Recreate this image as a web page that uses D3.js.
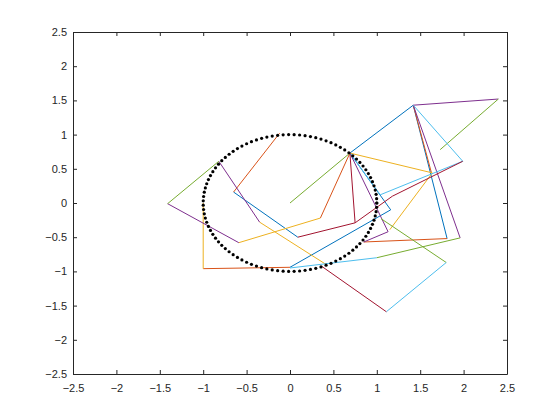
<!DOCTYPE html>
<html>
<head>
<meta charset="utf-8">
<script src="https://cdn.jsdelivr.net/npm/d3@7"></script>
<style>
  body { margin: 0; background: #fff; }
  text { font-family: Arial, "Liberation Sans", sans-serif; font-size: 11px; fill: #262626; }
</style>
</head>
<body>
<div id="chart"></div>
<script>
var svgWidth = 560;
var svgHeight = 420;
var margin = { top: 32, right: 53, bottom: 46, left: 73 };
var width = svgWidth - margin.left - margin.right;
var height = svgHeight - margin.top - margin.bottom;

var xTicks = [-2.5, -2, -1.5, -1, -0.5, 0, 0.5, 1, 1.5, 2, 2.5];
var yTicks = [-2.5, -2, -1.5, -1, -0.5, 0, 0.5, 1, 1.5, 2, 2.5];

// segments per colour, [x1, y1, x2, y2]
var blueSegs = [
  [0.69, 0.73, 1.42, 1.43],
  [1.42, 1.43, 1.81, -0.52],
  [-0.65, 0.16, 0.09, -0.50],
  [0.00, -0.94, 1.16, -0.10],
  [0.69, 0.73, 1.16, -0.10]
];
var orangeSegs = [
  [-0.12, 1.02, -0.65, 0.16],
  [0.69, 0.73, 0.35, -0.22],
  [-1.00, -0.96, 0.00, -0.94],
  [0.85, -0.57, 1.81, -0.52],
  [1.42, 1.43, 1.63, 0.44]
];
var yellowSegs = [
  [0.69, 0.73, 1.64, 0.44],
  [1.64, 0.44, 1.15, -0.39],
  [-0.35, -0.28, 0.43, -0.91],
  [-0.59, -0.58, 0.35, -0.22],
  [-1.00, 0.00, -1.00, -0.96]
];
var purpleSegs = [
  [1.42, 1.43, 2.40, 1.52],
  [1.42, 1.43, 1.96, -0.51],
  [-0.82, 0.61, -0.35, -0.28],
  [-1.41, -0.01, -0.59, -0.58],
  [0.69, 0.73, 1.13, -0.42],
  [1.13, -0.42, 0.85, -0.57]
];
var greenSegs = [
  [0.00, 0.00, 0.69, 0.73],
  [-1.41, -0.01, -0.82, 0.61],
  [2.40, 1.52, 1.73, 0.78],
  [1.05, -0.23, 1.80, -0.87],
  [1.00, -0.80, 1.96, -0.51]
];
var lightBlueSegs = [
  [1.42, 1.43, 1.99, 0.61],
  [1.99, 0.61, 1.04, 0.12],
  [0.69, 0.73, 1.04, 0.12],
  [1.80, -0.87, 1.11, -1.59],
  [0.00, -0.95, 1.00, -0.80]
];
var darkRedSegs = [
  [0.69, 0.73, 0.75, -0.29],
  [0.75, -0.29, 0.09, -0.50],
  [1.99, 0.61, 1.18, 0.10],
  [1.18, 0.10, 0.75, -0.29],
  [1.11, -1.59, 0.37, -0.93]
];

var colorOrder = ["#0072BD", "#D95319", "#EDB120", "#7E2F8E", "#77AC30", "#4DBEEE", "#A2142F"];
var segGroups = [blueSegs, orangeSegs, yellowSegs, purpleSegs, greenSegs, lightBlueSegs, darkRedSegs];

// unit circle sampled as dots
var circleN = 100;
var circleT = d3.range(circleN).map(function(i) { return 2 * Math.PI * i / (circleN - 1); });

var svg = d3.select("#chart")
  .append("svg")
  .attr("width", svgWidth)
  .attr("height", svgHeight);

svg.append("rect").attr("width", svgWidth).attr("height", svgHeight).attr("fill", "#fff");

var chartGroup = svg.append("g")
  .attr("transform", `translate(${margin.left}, ${margin.top})`);

var xScale = d3.scaleLinear().domain([-2.5, 2.5]).range([0, width]);
var yScale = d3.scaleLinear().domain([-2.5, 2.5]).range([height, 0]);

// segments
segGroups.forEach(function(segs, i) {
  chartGroup.append("g").selectAll("line")
    .data(segs)
    .enter()
    .append("line")
    .attr("x1", d => xScale(d[0]))
    .attr("y1", d => yScale(d[1]))
    .attr("x2", d => xScale(d[2]))
    .attr("y2", d => yScale(d[3]))
    .attr("stroke", colorOrder[i])
    .attr("stroke-width", 1);
});

// dotted circle
chartGroup.append("g").selectAll("circle")
  .data(circleT)
  .enter()
  .append("circle")
  .attr("cx", t => xScale(Math.cos(t)))
  .attr("cy", t => yScale(Math.sin(t)))
  .attr("r", 1.6)
  .attr("fill", "#000");

// axes
var tickLen = 4;
var bottomAxis = d3.axisBottom(xScale).tickValues(xTicks).tickSizeInner(-tickLen).tickSizeOuter(0).tickPadding(10).tickFormat(d3.format(""));
var topAxis = d3.axisTop(xScale).tickValues(xTicks).tickSizeInner(-tickLen).tickSizeOuter(0).tickFormat("");
var leftAxis = d3.axisLeft(yScale).tickValues(yTicks).tickSizeInner(-tickLen).tickSizeOuter(0).tickPadding(6).tickFormat(d3.format(""));
var rightAxis = d3.axisRight(yScale).tickValues(yTicks).tickSizeInner(-tickLen).tickSizeOuter(0).tickFormat("");

chartGroup.append("g").attr("transform", `translate(0, ${height})`).call(bottomAxis);
chartGroup.append("g").call(topAxis);
chartGroup.append("g").call(leftAxis);
chartGroup.append("g").attr("transform", `translate(${width}, 0)`).call(rightAxis);

chartGroup.selectAll(".domain").attr("stroke", "#262626");
chartGroup.selectAll(".tick line").attr("stroke", "#262626");
chartGroup.selectAll(".tick text").attr("fill", "#262626").style("font-size", "11px");
</script>
</body>
</html>
